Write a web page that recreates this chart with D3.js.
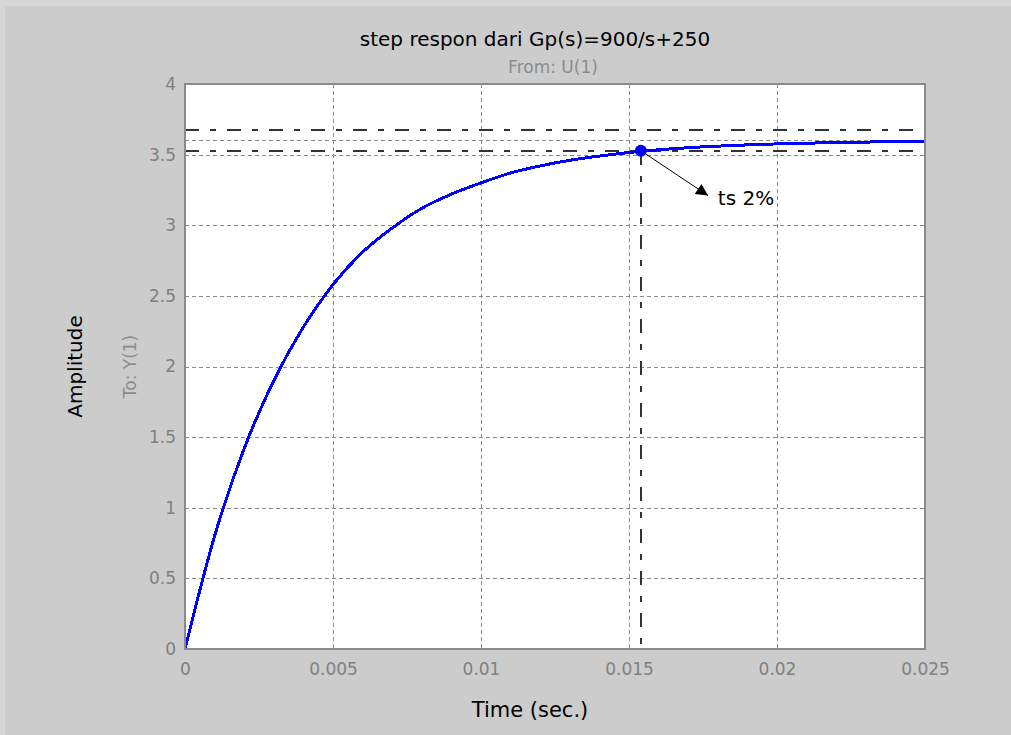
<!DOCTYPE html>
<html>
<head>
<meta charset="utf-8">
<script src="https://cdn.jsdelivr.net/npm/d3@7"></script>
<style>
  html, body { margin:0; padding:0; background:#cccccc; overflow:hidden; }
  svg { display:block; font-family:"DejaVu Sans", sans-serif; }
</style>
</head>
<body>
<svg id="step_chart"></svg>
<script>
// step respon data
var timeData = [0, 0.001, 0.002, 0.003, 0.004, 0.005, 0.006, 0.007, 0.008, 0.009, 0.01,
                0.011, 0.012, 0.013, 0.014, 0.015, 0.016, 0.017, 0.018, 0.019, 0.02,
                0.021, 0.022, 0.023, 0.024, 0.025];
var ampData = [0, 0.80, 1.42, 1.90, 2.28, 2.58, 2.81, 2.98, 3.12, 3.22, 3.30,
               3.37, 3.42, 3.46, 3.49, 3.515, 3.534, 3.549, 3.56, 3.569, 3.576,
               3.581, 3.585, 3.589, 3.591, 3.593];

var xTickValues = [0, 0.005, 0.01, 0.015, 0.02, 0.025];
var xTickLabels = ["0", "0.005", "0.01", "0.015", "0.02", "0.025"];
var yTickValues = [0, 0.5, 1, 1.5, 2, 2.5, 3, 3.5, 4];
var yTickLabels = ["0", "0.5", "1", "1.5", "2", "2.5", "3", "3.5", "4"];

var finalValue = 3.6;
var settleBand = [3.528, 3.672];   // +-2% of final value
var settleTime = 0.0154;
var settleAmp = 3.528;
var arrowTip = [0.01767, 3.21];
var noteAt = [0.0180, 3.14];
var noteText = "ts 2%";

const W = 1011, H = 735;
const margin = {top:84, right:86, bottom:86, left:185};
const width = W - margin.left - margin.right;
const height = H - margin.top - margin.bottom;

const root = d3.select("#step_chart").attr("width", W).attr("height", H);
root.append("rect").attr("width", W).attr("height", H).attr("fill", "#cccccc");
// light strip at top / left edge of the screenshot
root.append("rect").attr("width", W).attr("height", 6).attr("fill", "#d6d6d6");
root.append("rect").attr("width", 5).attr("height", H).attr("fill", "#d6d6d6");

const svg = root.append("g")
    .attr("transform", "translate(" + margin.left + "," + margin.top + ")");

const x = d3.scaleLinear().domain([0, 0.025]).range([0, width]);
const y = d3.scaleLinear().domain([0, 4]).range([height, 0]);

svg.append("rect").attr("width", width).attr("height", height).attr("fill", "#fff");

// grid
const grid = svg.append("g").attr("shape-rendering", "crispEdges")
    .attr("stroke", "#8a8a8a").attr("stroke-width", 1).attr("stroke-dasharray", "4,3");
grid.selectAll(".gx").data(xTickValues.slice(1, -1)).enter().append("line")
    .attr("x1", d => Math.round(x(d)) + 0.5).attr("x2", d => Math.round(x(d)) + 0.5)
    .attr("y1", 0).attr("y2", height);
grid.selectAll(".gy").data(yTickValues.slice(1, -1)).enter().append("line")
    .attr("y1", d => Math.round(y(d)) + 0.5).attr("y2", d => Math.round(y(d)) + 0.5)
    .attr("x1", 0).attr("x2", width);
// final value line
grid.append("line")
    .attr("x1", 0).attr("x2", width)
    .attr("y1", Math.round(y(finalValue)) + 0.5).attr("y2", Math.round(y(finalValue)) + 0.5);

// settling band, dash-dot
const band = svg.append("g").attr("shape-rendering", "crispEdges")
    .attr("stroke", "#333").attr("stroke-width", 2).attr("stroke-dasharray", "14,11,6,11");
band.selectAll("line").data(settleBand).enter().append("line")
    .attr("x1", 0).attr("x2", width)
    .attr("y1", d => Math.round(y(d))).attr("y2", d => Math.round(y(d)));
band.append("line")
    .attr("x1", Math.round(x(settleTime))).attr("x2", Math.round(x(settleTime)))
    .attr("y1", y(settleAmp)).attr("y2", height);

// response curve
const pts = timeData.map((t, i) => [t, ampData[i]]);
const line = d3.line().x(d => x(d[0])).y(d => y(d[1])).curve(d3.curveMonotoneX);
svg.append("path").datum(pts)
    .attr("d", line)
    .attr("fill", "none")
    .attr("stroke", "#0000ff")
    .attr("stroke-width", 3)
    .attr("shape-rendering", "crispEdges");

svg.append("circle")
    .attr("cx", x(settleTime)).attr("cy", y(settleAmp)).attr("r", 6)
    .attr("fill", "#0000ff");

// arrow + note
root.append("defs").append("marker")
    .attr("id", "arrowHead")
    .attr("viewBox", "0 0 10 10")
    .attr("refX", 10).attr("refY", 5)
    .attr("markerWidth", 17).attr("markerHeight", 12)
    .attr("markerUnits", "userSpaceOnUse")
    .attr("orient", "auto")
    .append("path").attr("d", "M0,0 L10,5 L0,10 Z").attr("fill", "#000");

svg.append("line")
    .attr("x1", x(settleTime) + 3).attr("y1", y(settleAmp) + 2)
    .attr("x2", x(arrowTip[0])).attr("y2", y(arrowTip[1]))
    .attr("stroke", "#000").attr("stroke-width", 1)
    .attr("marker-end", "url(#arrowHead)");

svg.append("text")
    .attr("x", x(noteAt[0])).attr("y", y(noteAt[1]))
    .style("font-size", "20px").attr("fill", "#000")
    .text(noteText);

// axes
const xAxis = d3.axisBottom(x).tickValues(xTickValues)
    .tickFormat((d, i) => xTickLabels[i]).tickSize(0).tickPadding(14);
const yAxis = d3.axisLeft(y).tickValues(yTickValues)
    .tickFormat((d, i) => yTickLabels[i]).tickSize(0).tickPadding(9);

svg.append("g").attr("transform", "translate(0," + height + ")").call(xAxis)
    .call(g => g.select(".domain").remove())
    .selectAll("text").style("font-size", "17px").style("font-family", "DejaVu Sans").attr("fill", "#808080");
svg.append("g").call(yAxis)
    .call(g => g.select(".domain").remove())
    .selectAll("text").style("font-size", "17px").style("font-family", "DejaVu Sans").attr("fill", "#808080");

// frame
svg.append("rect").attr("x", 0).attr("y", 0).attr("width", width).attr("height", height)
    .attr("fill", "none").attr("stroke", "#8a8a8a").attr("stroke-width", 2)
    .attr("shape-rendering", "crispEdges");

// titles
root.append("text").attr("x", 535).attr("y", 46)
    .attr("text-anchor", "middle").style("font-size", "20px").attr("fill", "#000")
    .text("step respon dari Gp(s)=900/s+250");
root.append("text").attr("x", 553).attr("y", 73)
    .attr("text-anchor", "middle").style("font-size", "17px").attr("fill", "#8c8c8c")
    .text("From: U(1)");
root.append("text").attr("x", 530).attr("y", 717)
    .attr("text-anchor", "middle").style("font-size", "21px").attr("fill", "#000")
    .text("Time (sec.)");
root.append("text")
    .attr("transform", "translate(82," + (margin.top + height / 2) + ") rotate(-90)")
    .attr("text-anchor", "middle").style("font-size", "20px").attr("fill", "#000")
    .text("Amplitude");
root.append("text")
    .attr("transform", "translate(136," + (margin.top + height / 2) + ") rotate(-90)")
    .attr("text-anchor", "middle").style("font-size", "17px").attr("fill", "#8c8c8c")
    .text("To: Y(1)");
</script>
</body>
</html>
